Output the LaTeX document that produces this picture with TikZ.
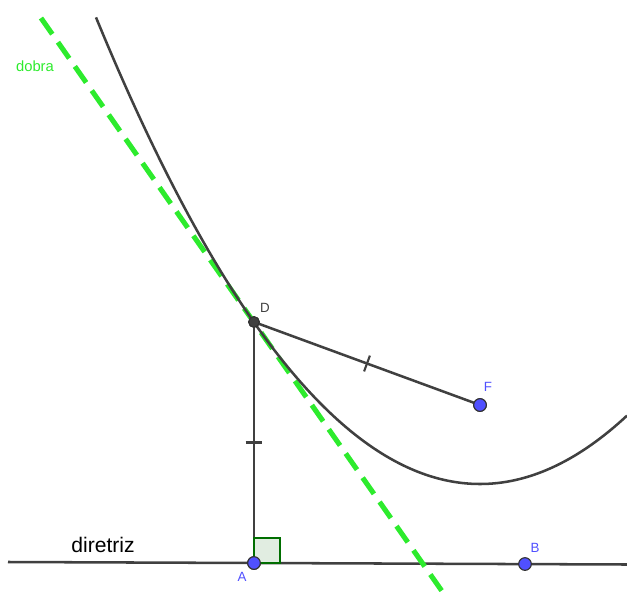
\documentclass[tikz,border=0pt]{standalone}
\usepackage{fontspec}
\setmainfont{Liberation Sans}
\usepackage{xcolor}
\usetikzlibrary{arrows.meta,positioning,decorations.markings}

\definecolor{linegray}{RGB}{64,64,64}
\definecolor{dobragreen}{RGB}{45,235,45}
\definecolor{ptblue}{RGB}{80,80,255}
\definecolor{anglegreen}{RGB}{0,110,0}
\definecolor{anglefill}{RGB}{225,237,225}

\begin{document}
\begin{tikzpicture}[>=Stealth, x=0.025cm, y=-0.025cm,
  seg/.style={line width=1.8pt, linegray},
  dobra/.style={line width=3.6pt, dobragreen, dash pattern=on 14pt off 7pt},
  pt/.style={circle, fill=ptblue, draw=black!80, line width=0.8pt, inner sep=0pt, minimum size=9pt},
  lab/.style={font=\fontsize{9.5}{11}\selectfont, ptblue},
  tick/.style={decoration={markings, mark=at position 0.5 with
    {\draw[linegray, line width=1.5pt] (0,-6pt) -- (0,6pt);}}, postaction=decorate}]
  \useasboundingbox (0,0) rectangle (627,594);

  % directrix and the fold line
  \coordinate (dl) at (8,562);
  \coordinate (dr) at (627,564.5);
  \coordinate (ftop) at (41,18);
  \coordinate (fbot) at (444,594);
  \draw[seg] (dl) -- (dr);
  \draw[dobra] (ftop) -- (fbot);

  % parabola with focus F and directrix
  \begin{scope}
    \clip (0,0) rectangle (627,594);
    \draw[seg] plot[domain=96:627, samples=120] (\x, {484-316*((\x-480)/316)^2});
  \end{scope}

  \node[pt] (A) at (254,563) {};
  \node[pt] (B) at (525,564) {};
  \node[pt] (F) at (480,405) {};
  \node[pt, fill=black!75, minimum size=7.5pt] (D) at (254,322) {};

  \draw[seg, tick] (D.center) -- (A.center);
  \draw[seg, tick] (D.center) -- (F.center);
  \draw[anglegreen, fill=anglefill, line width=1.4pt] (A.center) rectangle ++(26,-25);

  % redraw points on top
  \node[pt] at (A) {};
  \node[pt, fill=black!75, minimum size=7.5pt] at (D) {};
  \node[pt] at (F) {};

  \node[lab, linegray] (labD) at (265,308) {D};
  \node[lab] (labA) at (242,577) {A};
  \node[lab] (labF) at (488,387) {F};
  \node[lab] (labB) at (535,548) {B};
  \node[font=\fontsize{10.5}{12}\selectfont, dobragreen] (labdobra) at (35,66) {dobra};
  \node[font=\fontsize{15}{18}\selectfont] (labdir) at (103,545) {diretriz};
\end{tikzpicture}
\end{document}
